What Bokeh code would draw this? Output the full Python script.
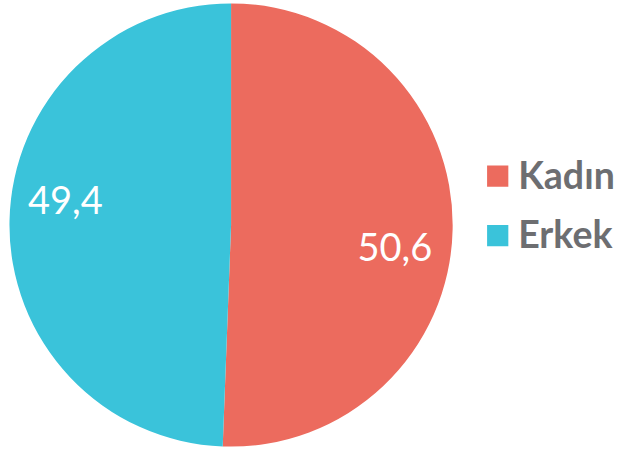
import math
from bokeh.plotting import figure
from bokeh.models import ColumnDataSource
from bokeh.core.properties import value
from bokeh.embed import file_html
from bokeh.resources import INLINE

categories = ["Kadın", "Erkek"]
values = [50.6, 49.4]
colors = ["#EC6B5E", "#3AC3DA"]

W, H = 622, 449
RW, RH = 638, 465
sx, sy = W / RW, H / RH


def X(px):
    return px * sx


def Y(py):
    return H - py * sy


p = figure(width=W, height=H, x_range=(0, W), y_range=(0, H),
           output_backend="svg", toolbar_location=None, min_border=0)
p.axis.visible = False
p.grid.visible = False
p.outline_line_color = None
p.background_fill_color = "white"
p.border_fill_color = "white"

pcx, pcy, pr = 236.5, 232.5, 229.5
cx, cy, r = X(pcx), Y(pcy), pr * sy
total = sum(values)
starts, ends = [], []
a = math.pi / 2
for v in values:
    starts.append(a)
    a = a - 2 * math.pi * v / total
    ends.append(a)

src = ColumnDataSource(dict(start=starts, end=ends, color=colors, cat=categories))
p.wedge(x=cx, y=cy, radius=r, radius_units="screen", start_angle="start", end_angle="end",
        direction="clock", fill_color="color", line_color=None, source=src)

# value labels (offsets from pie centre, reference pixels)
offs = [(168, 23), (-170, -26)]
lx = [X(pcx + dx) for dx, dy in offs]
ly = [Y(pcy + dy) for dx, dy in offs]
txt = [f"{v:.1f}".replace(".", ",") for v in values]
p.text(x=lx, y=ly, text=txt, text_color="white", text_font=value("Lato"),
       text_font_size="38px", text_align="center", text_baseline="middle")

# legend
sq = 22 * sy
leg_py = [182, 243.5]
p.rect(x=[X(510)] * 2, y=[Y(v) for v in leg_py], width=sq, height=sq,
       fill_color=colors, line_color=None)
p.text(x=[X(531)] * 2, y=[Y(v - 2) for v in leg_py], text=categories, text_color="#6D6E71",
       text_font=value("Lato"), text_font_style="bold", text_font_size="37.5px",
       text_align="left", text_baseline="middle")

open("out.html", "w").write(file_html(p, INLINE))
